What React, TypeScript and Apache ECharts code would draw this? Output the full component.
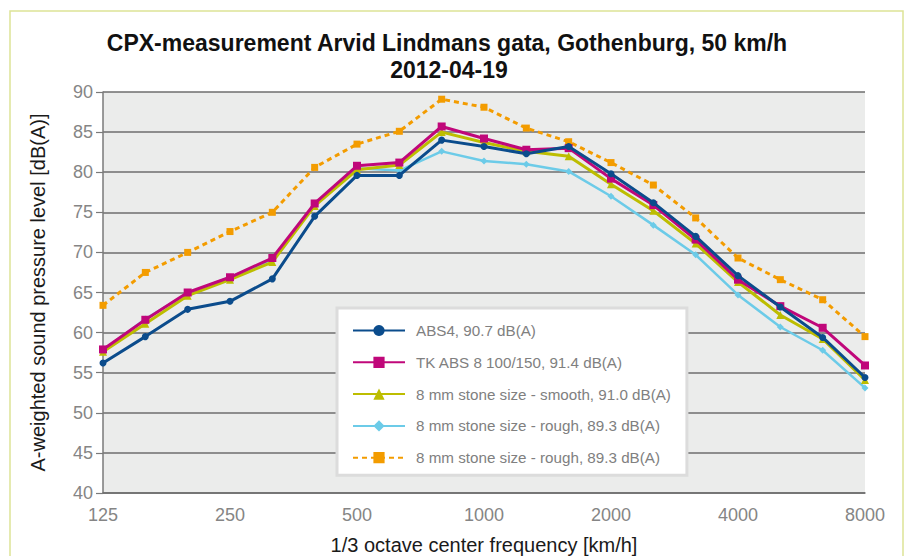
import React, { useEffect, useRef } from "react";
import * as echarts from "echarts";

const categories = ["125", "160", "200", "250", "315", "400", "500", "630", "800", "1000", "1250", "1600", "2000", "2500", "3150", "4000", "5000", "6300", "8000"];

const abs4 = [56.2, 59.5, 62.9, 63.9, 66.7, 74.5, 79.6, 79.6, 84.0, 83.2, 82.3, 83.2, 79.8, 76.2, 72.0, 67.1, 63.2, 59.4, 54.4];
const tkAbs8 = [57.9, 61.6, 65.0, 66.9, 69.3, 76.1, 80.8, 81.2, 85.7, 84.2, 82.8, 83.0, 79.2, 75.9, 71.6, 66.6, 63.3, 60.6, 55.9];
const smooth = [57.6, 61.1, 64.6, 66.6, 68.8, 75.8, 80.3, 80.9, 85.0, 83.7, 82.6, 82.0, 78.5, 75.2, 71.1, 66.3, 62.2, 59.2, 54.1];
const rough = [57.8, 61.7, 64.9, 66.9, 69.1, 75.9, 80.5, 80.2, 82.6, 81.4, 81.0, 80.1, 77.0, 73.4, 69.7, 64.7, 60.7, 57.8, 53.1];
const roughDashed = [63.4, 67.5, 70.0, 72.6, 75.0, 80.6, 83.5, 85.1, 89.1, 88.1, 85.5, 83.8, 81.2, 78.4, 74.3, 69.3, 66.6, 64.1, 59.5];

const seriesNames = [
  "ABS4, 90.7 dB(A)",
  "TK ABS 8 100/150, 91.4 dB(A)",
  "8 mm stone size - smooth, 91.0 dB(A)",
  "8 mm stone size - rough, 89.3 dB(A)",
  "8 mm stone size - rough, 89.3 dB(A) ",
];

const titleLines = ["CPX-measurement Arvid Lindmans gata, Gothenburg, 50 km/h", "2012-04-19"];

const yTicks = { min: 40, max: 90, interval: 5 };

export default function App() {
  const ref = useRef<HTMLDivElement>(null);
  useEffect(() => {
    if (!ref.current) return;
    const chart = echarts.init(ref.current, null, { renderer: "svg" });
    const font = "'Liberation Sans', Arial, sans-serif";
    const titleStyle = { fontFamily: font, fontSize: 23, fontWeight: "bold", color: "#111", lineHeight: 24 };
    const mk = (name: string, data: number[], color: string, symbol: string, symbolSize: number, width: number, type: any = "solid", z = 2) => ({
      name,
      type: "line",
      data,
      symbol,
      symbolSize,
      z,
      lineStyle: { color, width, type },
      itemStyle: { color, borderWidth: 0 },
    });
    chart.setOption({
      animation: false,
      backgroundColor: "#ffffff",
      graphic: [
        {
          type: "rect",
          shape: { x: 10, y: 11, width: 893, height: 560 },
          style: { fill: "none", stroke: "#dde396", lineWidth: 1.5 },
          silent: true,
        },
      ],
      title: [
        { text: titleLines[0], left: 447, top: 31, padding: 0, textAlign: "center", textStyle: titleStyle },
        { text: titleLines[1], left: 449, top: 58, padding: 0, textAlign: "center", textStyle: titleStyle },
      ],
      grid: {
        left: 103,
        right: 44,
        top: 92,
        bottom: 63,
        show: true,
        backgroundColor: "#ebeceb",
        borderWidth: 0,
        containLabel: false,
        outerBoundsMode: "none",
      },
      legend: {
        orient: "vertical",
        left: 337,
        top: 308,
        padding: [15, 16, 10, 15],
        itemWidth: 52,
        itemHeight: 14,
        itemGap: 16.8,
        backgroundColor: "#ffffff",
        borderColor: "#dcdcdc",
        borderWidth: 3,
        textStyle: { fontFamily: font, fontSize: 15.2, color: "#808080", padding: [0, 0, 0, 6] },
        data: seriesNames,
      },
      xAxis: {
        type: "category",
        data: categories,
        boundaryGap: false,
        name: "1/3 octave center frequency [km/h]",
        nameLocation: "middle",
        nameGap: 42,
        nameTextStyle: { fontFamily: font, fontSize: 20, color: "#1a1a1a" },
        axisLine: { lineStyle: { color: "#6e6e6e", width: 1.5 } },
        axisTick: { show: false },
        axisLabel: { interval: 2, fontFamily: font, fontSize: 18, color: "#858585", margin: 13 },
        splitLine: { show: false },
      },
      yAxis: {
        type: "value",
        min: yTicks.min,
        max: yTicks.max,
        interval: yTicks.interval,
        name: "A-weighted sound pressure level [dB(A)]",
        nameLocation: "middle",
        nameRotate: 90,
        nameGap: 55,
        nameTextStyle: { fontFamily: font, fontSize: 20, color: "#1a1a1a" },
        axisLine: { show: true, lineStyle: { color: "#7a7a7a", width: 1.5 } },
        axisTick: { show: true, length: 7, lineStyle: { color: "#7a7a7a", width: 1.2 } },
        axisLabel: { fontFamily: font, fontSize: 18, color: "#858585", margin: 10 },
        splitLine: { show: true, lineStyle: { color: "#6e6e6e", width: 1.5 } },
      },
      series: [
        mk(seriesNames[4], roughDashed, "#f39c00", "rect", 7, 3, [5, 4], 1),
        mk(seriesNames[3], rough, "#6ccbe8", "diamond", 7, 2.5, "solid", 2),
        mk(seriesNames[2], smooth, "#bdbd00", "triangle", 8, 3, "solid", 3),
        mk(seriesNames[1], tkAbs8, "#c0077a", "rect", 8, 3, "solid", 4),
        mk(seriesNames[0], abs4, "#0b4c8c", "circle", 7, 3, "solid", 5),
      ],
    });
    return () => chart.dispose();
  }, []);
  return <div ref={ref} style={{ position: "fixed", left: 0, top: 0, width: 909, height: 556 }} />;
}
